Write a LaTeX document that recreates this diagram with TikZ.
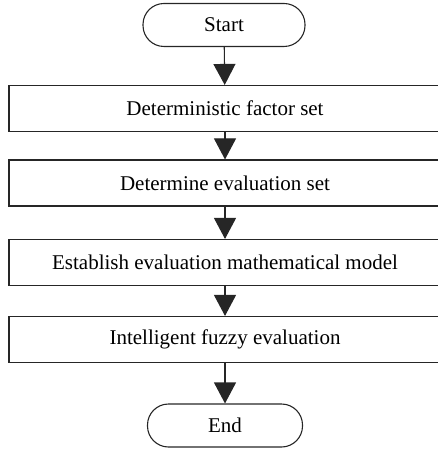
\documentclass[tikz,border=0pt]{standalone}
\usepackage{fontspec}
\setmainfont{Liberation Serif}
\usetikzlibrary{arrows.meta}

\tikzset{
  stepbox/.style={draw=black!85, line width=1.1bp, minimum width=432bp, minimum height=46bp, inner sep=0pt, font=\fontsize{21bp}{25bp}\selectfont},
  terminal/.style={draw=black!85, line width=1.1bp, rounded corners=21bp, minimum height=43bp, inner sep=0pt, font=\fontsize{21bp}{25bp}\selectfont},
  flow/.style={draw=black!85, line width=1.1bp, -{Triangle[width=22bp,length=21bp]}}
}

\begin{document}
\begin{tikzpicture}[x=1bp,y=-1bp]
        \useasboundingbox (0,0) rectangle (438,456);

        \node[terminal, minimum width=162bp] (start) at (224,25) {Start};
        \node[stepbox] (factor) at (225,108.5) {Deterministic factor set};
        \node[stepbox] (evalset) at (225,183) {Determine evaluation set};
        \node[stepbox] (model) at (225,262.5) {Establish evaluation mathematical model};
        \node[stepbox] (fuzzy) at (225,339.5) {Intelligent fuzzy evaluation};
        \node[terminal, minimum width=155bp] (end) at (225,425.5) {End};

        \draw[flow] (start) -- (factor);
        \draw[flow] (factor) -- (evalset);
        \draw[flow] (evalset) -- (model);
        \draw[flow] (model) -- (fuzzy);
        \draw[flow] (fuzzy) -- (end);

\end{tikzpicture}
\end{document}
